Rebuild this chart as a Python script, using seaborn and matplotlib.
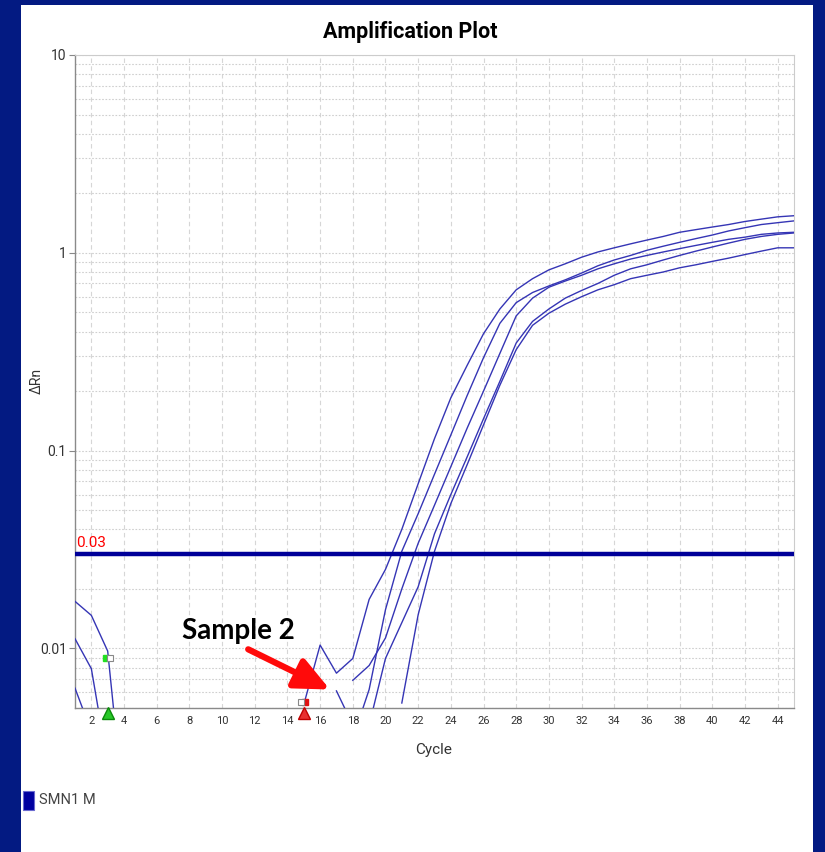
import numpy as np
import pandas as pd
import matplotlib
matplotlib.use("Agg")
import matplotlib.pyplot as plt
from matplotlib.patches import Rectangle
from matplotlib.ticker import FixedLocator, FixedFormatter, LogLocator, NullFormatter
import seaborn as sns

NAN = np.nan

# ---- data -------------------------------------------------------------
cycles = list(range(1, 46))

# Delta Rn per cycle for each well (NaN = non-positive, not shown on a log axis)
well_1 = [0.0173, 0.0147, 0.0097, 0.0015, NAN, NAN, NAN, NAN, NAN, NAN,
          NAN, NAN, NAN, NAN, 0.0052, 0.0104, 0.0075, 0.0089, 0.0177, 0.0251,
          0.040, 0.068, 0.115, 0.185, 0.27, 0.39, 0.52, 0.65, 0.74, 0.82,
          0.88, 0.95, 1.01, 1.06, 1.11, 1.16, 1.21, 1.27, 1.31, 1.35,
          1.39, 1.44, 1.48, 1.52, 1.54]
well_2 = [NAN, NAN, NAN, NAN, NAN, NAN, NAN, NAN, NAN, NAN,
          NAN, NAN, NAN, NAN, NAN, NAN, NAN, 0.0035, 0.0062, 0.0157,
          0.031, 0.048, 0.076, 0.12, 0.19, 0.295, 0.44, 0.56, 0.63, 0.68,
          0.73, 0.79, 0.86, 0.92, 0.97, 1.03, 1.08, 1.13, 1.18, 1.23,
          1.29, 1.34, 1.39, 1.42, 1.45]
well_3 = [NAN, NAN, NAN, NAN, NAN, NAN, NAN, NAN, NAN, NAN,
          NAN, NAN, NAN, NAN, NAN, NAN, NAN, 0.0069, 0.0082, 0.0113,
          0.020, 0.034, 0.053, 0.083, 0.13, 0.20, 0.31, 0.48, 0.59, 0.67,
          0.72, 0.77, 0.83, 0.88, 0.93, 0.97, 1.01, 1.05, 1.09, 1.13,
          1.17, 1.20, 1.24, 1.26, 1.27]
well_4 = [0.0112, 0.0079, 0.0026, NAN, NAN, NAN, NAN, NAN, NAN, NAN,
          NAN, NAN, NAN, NAN, NAN, NAN, NAN, NAN, 0.0041, 0.0089,
          0.0135, 0.0205, 0.038, 0.060, 0.093, 0.145, 0.224, 0.35, 0.45, 0.52,
          0.59, 0.645, 0.70, 0.77, 0.83, 0.87, 0.92, 0.97, 1.02, 1.07,
          1.12, 1.17, 1.21, 1.24, 1.26]
well_5 = [0.0063, 0.0038, NAN, NAN, NAN, NAN, NAN, NAN, NAN, NAN,
          NAN, NAN, NAN, NAN, NAN, NAN, NAN, NAN, NAN, NAN,
          0.0053, 0.0148, 0.031, 0.054, 0.085, 0.135, 0.214, 0.324, 0.43, 0.495,
          0.55, 0.60, 0.65, 0.69, 0.74, 0.77, 0.80, 0.84, 0.87, 0.905,
          0.94, 0.98, 1.02, 1.06, 1.06]
sample_2 = [NAN] * 16 + [0.0061, 0.0041] + [NAN] * 27

threshold = 0.03
threshold_label = "0.03"
target_name = "SMN1 M"

# baseline start / end markers of the selected well
baseline_start = (2.87, 0.0090)
baseline_end = (15.1, 0.00534)

x_ticks = list(range(2, 45, 2))
y_ticks = [0.01, 0.1, 1, 10]
y_tick_labels = ["0.01", "0.1", "1", "10"]

# ---- long-form table, one unit per unbroken run of positive values ---
wells = {"1": well_1, "2": well_2, "3": well_3, "4": well_4, "5": well_5,
         "Sample 2": sample_2}
rows = []
seg = 0
for name, vals in wells.items():
    gap = True
    for c, v in zip(cycles, vals):
        if np.isnan(v):
            gap = True
            continue
        if gap:
            seg += 1
            gap = False
        rows.append({"well": name, "segment": seg, "Cycle": c, "dRn": v})
df = pd.DataFrame(rows)

# ---- styling ----------------------------------------------------------
NAVY = "#031a82"
CURVE = "#3535b5"
THRESH = "#000099"
NARROW = ["Roboto", "DejaVu Sans"]

W, H = 825, 852
fig = plt.figure(figsize=(W / 100, H / 100), dpi=100, facecolor=NAVY)
fig.add_artist(Rectangle((21 / W, 0), 792 / W, 847 / H, transform=fig.transFigure,
                         facecolor="white", edgecolor="none", zorder=-5))

ax = fig.add_axes([75 / W, (H - 708) / H, 719 / W, 653 / H])
ax.set_facecolor("white")
ax.set_yscale("log")
ax.set_xlim(1, 45)
ax.set_ylim(0.005, 10)

sns.lineplot(data=df, x="Cycle", y="dRn", units="segment", estimator=None,
             color=CURVE, lw=1.0, ax=ax, legend=False, zorder=3)

# threshold line and its label
ax.axhline(threshold, color=THRESH, lw=3.2, zorder=4)
ax.annotate(threshold_label, xy=(1, threshold), xytext=(1, 3),
            textcoords="offset points", ha="left", va="bottom",
            color="red", fontsize=11, family=NARROW)

# ticks and grid
ax.xaxis.set_major_locator(FixedLocator(x_ticks))
ax.yaxis.set_major_locator(FixedLocator(y_ticks))
ax.yaxis.set_major_formatter(FixedFormatter(y_tick_labels))
ax.yaxis.set_minor_locator(LogLocator(base=10, subs=range(2, 10)))
ax.yaxis.set_minor_formatter(NullFormatter())
ax.tick_params(axis="y", which="major", length=4, color="#888888",
               labelsize=10, labelcolor="#333333", pad=2)
ax.tick_params(axis="y", which="minor", length=0)
ax.tick_params(axis="x", length=0, labelsize=8, labelcolor="#333333", pad=6)
for lab in ax.get_xticklabels() + ax.get_yticklabels():
    lab.set_family(NARROW)

ax.grid(axis="x", which="major", color="#d6d6d6", lw=0.8, ls=(0, (4, 3)))
ax.grid(axis="y", which="both", color="#cfcfcf", lw=0.8, ls=(0, (1.5, 1.5)))
ax.set_axisbelow(True)

for side in ("left", "bottom"):
    ax.spines[side].set_color("#8a8a8a")
    ax.spines[side].set_linewidth(1.0)
for side in ("top", "right"):
    ax.spines[side].set_color("#cccccc")
    ax.spines[side].set_linewidth(0.8)

ax.set_xlabel("")
ax.set_ylabel("")

# baseline markers
ax.plot([baseline_start[0]], [baseline_start[1]], marker="s", ms=5,
        mfc="#22e022", mec="#22e022", zorder=6)
ax.plot([baseline_start[0] + 0.27], [baseline_start[1]], marker="s", ms=5,
        mfc="white", mec="#888888", mew=0.8, zorder=6)
ax.plot([baseline_end[0]], [baseline_end[1]], marker="s", ms=5,
        mfc="#e01010", mec="#e01010", zorder=6)
ax.plot([baseline_end[0] - 0.25], [baseline_end[1]], marker="s", ms=5,
        mfc="white", mec="#888888", mew=0.8, zorder=6)
trans = ax.get_xaxis_transform()
ax.plot([3.0], [-0.008], marker="^", ms=9, mfc="#28c828", mec="#0a8a0a",
        mew=1.0, transform=trans, clip_on=False, zorder=6)
ax.plot([15.0], [-0.008], marker="^", ms=9, mfc="#e83030", mec="#c00000",
        mew=1.0, transform=trans, clip_on=False, zorder=6)

# callout for the non-amplifying sample
ax.text(11.0, 0.0123, "Sample 2", ha="center", va="center", fontsize=20,
        fontweight="bold", family=["Lato", "DejaVu Sans"], color="black", zorder=7)
ax.annotate("", xy=(16.6, 0.0062), xytext=(11.6, 0.0099),
            arrowprops=dict(arrowstyle="-|>,head_length=0.7,head_width=0.32",
                            color="#ff0a0a", lw=4.5, mutation_scale=30,
                            shrinkA=0, shrinkB=0), zorder=7)

# titles and axis names
fig.text(410 / W, 1 - 32 / H, "Amplification Plot", ha="center", va="center",
         fontsize=15.5, fontweight="bold", family=NARROW, color="black")
fig.text(37 / W, 1 - 381 / H, "\u0394Rn", ha="center", va="center", rotation=90,
         fontsize=10, family=NARROW, color="#333333")
fig.text(434 / W, 1 - 750 / H, "Cycle", ha="center", va="center",
         fontsize=11, family=NARROW, color="#333333")

# legend entry
fig.add_artist(Rectangle((23 / W, 1 - 810 / H), 11 / W, 19 / H, transform=fig.transFigure,
                         facecolor="#0000a0", edgecolor="#6a6ad0", lw=0.8))
fig.text(39 / W, 1 - 800 / H, target_name, ha="left", va="center",
         fontsize=10.5, family=NARROW, color="#444444")

fig.savefig("out.png", dpi=100, facecolor=NAVY)
